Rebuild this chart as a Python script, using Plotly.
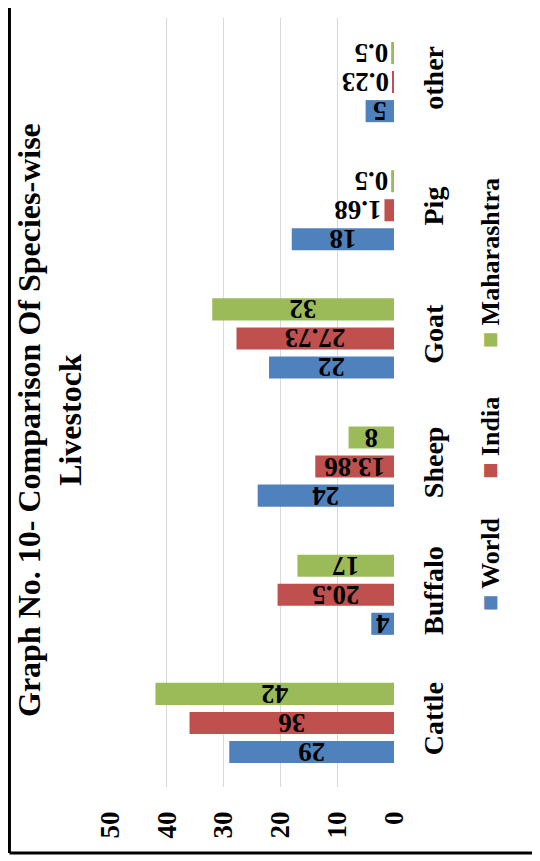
import plotly.graph_objects as go

categories = ["Cattle", "Buffalo", "Sheep", "Goat", "Pig", "other"]
world = [29, 4, 24, 22, 18, 5]
india = [36, 20.5, 13.86, 27.73, 1.68, 0.23]
maharashtra = [42, 17, 8, 32, 0.5, 0.5]
series = [("World", world, "#4F81BD"), ("India", india, "#C0504D"), ("Maharashtra", maharashtra, "#9BBB59")]
x_ticks = [0, 10, 20, 30, 40, 50]

SERIF = "Liberation Serif, Times New Roman, serif"

fig = go.Figure()
for name, vals, color in series:
    fig.add_trace(
        go.Bar(
            y=categories,
            x=vals,
            orientation="h",
            name=name,
            marker=dict(color=color, line=dict(width=0)),
            texttemplate="%{x}",
            textposition="auto",
            insidetextanchor="middle",
            textangle=180,
            constraintext="none",
            textfont=dict(family=SERIF, size=27, color="black", weight="bold"),
        )
    )

# legend drawn as rotated text (chart is turned 90 degrees)
legend_pos = [0.226, 0.398, 0.568]
for (name, vals, color), ly in zip(series, legend_pos):
    fig.add_annotation(
        x=1.338, y=ly, xref="paper", yref="paper",
        text=f"<span style='color:{color};font-size:27px'>■</span> {name}",
        textangle=-90, showarrow=False, xanchor="center", yanchor="bottom",
        font=dict(family=SERIF, size=26, color="black", weight="bold"),
    )

fig.add_annotation(
    x=-0.212, y=0.477, xref="paper", yref="paper",
    text="Graph No. 10- Comparison Of Species-wise<br>Livestock",
    textangle=-90, showarrow=False, xanchor="center", yanchor="middle",
    font=dict(family=SERIF, size=32, color="black", weight="bold"),
)

# outer frame (left and bottom edges visible)
fig.add_shape(type="line", xref="paper", yref="paper", x0=-0.354, x1=-0.354, y0=-0.0858, y1=1.03,
              line=dict(color="black", width=3))
fig.add_shape(type="line", xref="paper", yref="paper", x0=-0.354, x1=1.52, y0=-0.0858, y1=-0.0858,
              line=dict(color="black", width=3))

fig.update_layout(
    width=532,
    height=853,
    margin=dict(l=102, r=146, t=10, b=74),
    paper_bgcolor="white",
    plot_bgcolor="white",
    barmode="group",
    bargap=0.32,
    bargroupgap=0.24,
    showlegend=False,
    font=dict(family=SERIF, color="black", weight="bold"),
    xaxis=dict(
        range=[50, 0],
        tickvals=x_ticks,
        tickangle=-90,
        showgrid=True,
        gridcolor="#D9D9D9",
        gridwidth=1,
        zeroline=False,
        showline=False,
        ticks="",
        ticklabelstandoff=18,
        tickfont=dict(family=SERIF, size=27, color="black", weight="bold"),
    ),
    yaxis=dict(
        type="category",
        categoryorder="array",
        categoryarray=categories,
        side="right",
        tickangle=-90,
        showgrid=False,
        zeroline=False,
        showline=False,
        ticks="",
        ticklabelstandoff=20,
        tickfont=dict(family=SERIF, size=28, color="black", weight="bold"),
    ),
)

fig.write_html("out.html")
